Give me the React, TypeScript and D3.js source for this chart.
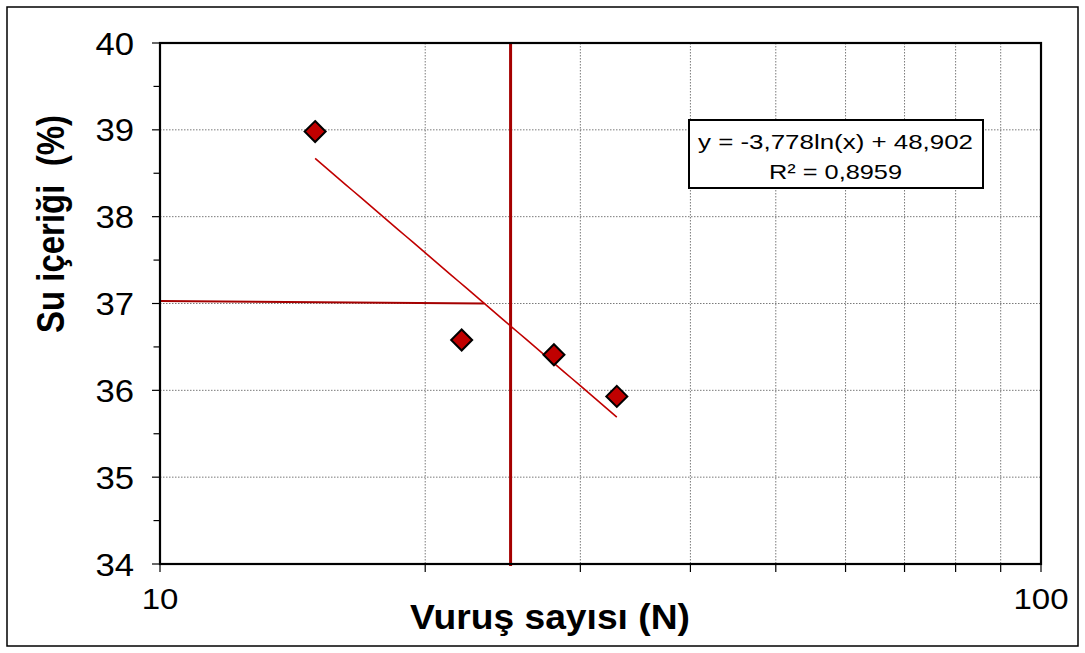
import React from "react";
import * as d3 from "d3";

// ---- data ----
const blowCounts = [15, 22, 28, 33];
const waterContents = [38.98, 36.58, 36.41, 35.93];
const trendA = -3.778;
const trendB = 48.902;
const equationLabel = "y = -3,778ln(x) + 48,902";
const r2Label = "R² = 0,8959";
const verticalRefX = 25;
const horizontalRef = [
  { x: 10, y: 37.03 },
  { x: 23.34, y: 37.0 },
];
const xTickValues = [10, 20, 30, 40, 50, 60, 70, 80, 90, 100];
const xLabelValues = [10, 100];
const yMajorTicks = [34, 35, 36, 37, 38, 39, 40];
const yMinorTicks = [34.5, 35.5, 36.5, 37.5, 38.5, 39.5];
const xTitle = "Vuruş sayısı (N)";
const yTitle = "Su içeriği  (%)";

const W = 1085;
const H = 653;
const plot = { left: 160, right: 1041, top: 43, bottom: 564 };
const FONT = "'Liberation Sans', Arial, Helvetica, sans-serif";
const RED = "#C00000";
const DARKRED = "#A50000";

export default function App() {
  const x = d3.scaleLog().domain([10, 100]).range([plot.left, plot.right]);
  const y = d3.scaleLinear().domain([34, 40]).range([plot.bottom, plot.top]);

  const xMin = d3.min(blowCounts) as number;
  const xMax = d3.max(blowCounts) as number;
  const trendPts = d3.range(0, 41).map((i) => {
    const xv = xMin * Math.pow(xMax / xMin, i / 40);
    return [x(xv), y(trendA * Math.log(xv) + trendB)] as [number, number];
  });
  const lineGen = d3.line();
  const hLine = d3
    .line<{ x: number; y: number }>()
    .x((d) => x(d.x))
    .y((d) => y(d.y));

  const diamond = (cx: number, cy: number, r: number) =>
    `M${cx},${cy - r}L${cx + r},${cy}L${cx},${cy + r}L${cx - r},${cy}Z`;

  return (
    <svg
      width={W}
      height={H}
      style={{ position: "absolute", left: 0, top: 0, background: "#fff" }}
      fontFamily={FONT}
    >
      <rect x={0} y={0} width={W} height={H} fill="#fff" />
      <rect x={7} y={7} width={1071} height={639} fill="none" stroke="#000" strokeWidth={1.5} />

      {/* gridlines */}
      {yMajorTicks
        .filter((v) => v !== 34 && v !== 40)
        .map((v) => (
          <line
            key={"gy" + v}
            x1={plot.left}
            x2={plot.right}
            y1={y(v)}
            y2={y(v)}
            stroke="#7a7a7a"
            strokeWidth={1}
            strokeDasharray="1.5,1.5"
          />
        ))}
      {xTickValues
        .filter((v) => v !== 10 && v !== 100)
        .map((v) => (
          <line
            key={"gx" + v}
            x1={x(v)}
            x2={x(v)}
            y1={plot.top}
            y2={plot.bottom}
            stroke="#7a7a7a"
            strokeWidth={1}
            strokeDasharray="1.5,1.5"
          />
        ))}

      {/* ticks */}
      {yMajorTicks.map((v) => (
        <line key={"ty" + v} x1={152} x2={plot.left} y1={y(v)} y2={y(v)} stroke="#000" strokeWidth={1.2} />
      ))}
      {yMinorTicks.map((v) => (
        <line key={"tm" + v} x1={153.5} x2={plot.left} y1={y(v)} y2={y(v)} stroke="#000" strokeWidth={1.2} />
      ))}
      {xTickValues.map((v) => (
        <line key={"tx" + v} x1={x(v)} x2={x(v)} y1={plot.bottom} y2={plot.bottom + 8} stroke="#000" strokeWidth={1.2} />
      ))}

      {/* reference lines */}
      <path d={hLine(horizontalRef) || ""} fill="none" stroke={DARKRED} strokeWidth={2} />
      <line
        x1={x(verticalRefX)}
        x2={x(verticalRefX)}
        y1={plot.top}
        y2={plot.bottom + 2}
        stroke={DARKRED}
        strokeWidth={3}
      />

      {/* trend line */}
      <path d={lineGen(trendPts) || ""} fill="none" stroke={RED} strokeWidth={1.6} />

      {/* plot frame */}
      <rect
        x={plot.left}
        y={plot.top}
        width={plot.right - plot.left}
        height={plot.bottom - plot.top}
        fill="none"
        stroke="#000"
        strokeWidth={2.2}
      />

      {/* points */}
      {blowCounts.map((b, i) => (
        <path
          key={"p" + i}
          d={diamond(x(b), y(waterContents[i]), 10.5)}
          fill={RED}
          stroke="#000"
          strokeWidth={2}
          strokeLinejoin="miter"
        />
      ))}

      {/* tick labels */}
      {yMajorTicks.map((v) => (
        <text
          key={"ly" + v}
          transform={`translate(134,${y(v) + 11.5}) scale(1.12,1)`}
          fontSize={31}
          textAnchor="end"
          fill="#000"
        >
          {v}
        </text>
      ))}
      {xLabelValues.map((v) => (
        <text
          key={"lx" + v}
          transform={`translate(${x(v)},609) scale(1.1,1)`}
          fontSize={30}
          textAnchor="middle"
          fill="#000"
        >
          {v}
        </text>
      ))}

      {/* axis titles */}
      <text
        x={550}
        y={629}
        fontSize={35}
        fontWeight="bold"
        textAnchor="middle"
        textLength={280}
        lengthAdjust="spacingAndGlyphs"
        fill="#000"
      >
        {xTitle}
      </text>
      <text
        transform="translate(64,224) rotate(-90)"
        fontSize={38}
        fontWeight="bold"
        textAnchor="middle"
        textLength={218}
        lengthAdjust="spacingAndGlyphs"
        style={{ whiteSpace: "pre" }}
        fill="#000"
      >
        {yTitle}
      </text>

      {/* equation box */}
      <rect x={689} y={120} width={294} height={68} fill="#fff" stroke="#000" strokeWidth={2} />
      <text
        x={835.5}
        y={148.5}
        fontSize={21}
        textAnchor="middle"
        textLength={275}
        lengthAdjust="spacingAndGlyphs"
        fill="#000"
      >
        {equationLabel}
      </text>
      <text
        x={835.5}
        y={178.5}
        fontSize={21}
        textAnchor="middle"
        textLength={133}
        lengthAdjust="spacingAndGlyphs"
        fill="#000"
      >
        {r2Label}
      </text>
    </svg>
  );
}
